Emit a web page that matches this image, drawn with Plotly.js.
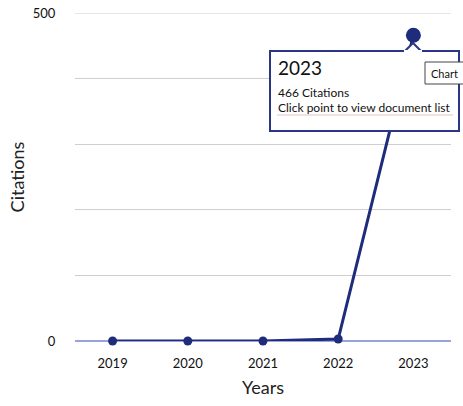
<!DOCTYPE html>
<html><head><meta charset="utf-8">
<script src="https://cdn.plot.ly/plotly-3.0.1.min.js"></script>
<style>html,body{margin:0;padding:0;background:#fff}#chart{width:463px;height:406px}</style>
</head><body><div id="chart"></div>
<script>
const years = ['2019','2020','2021','2022','2023'];
const citations = [0, 0, 0, 3, 466];
const yTickVals = [0, 100, 200, 300, 400, 500];
const yTickText = ['0', '', '', '', '', '500'];
const hoverYear = '2023';
const hoverIdx = years.indexOf(hoverYear);

const navy = '#1f2c7c';
const font = 'Lato, "Open Sans", sans-serif';
const L = 75, R = 451, T = 13, B = 341;
const px = x => (x - L) / (R - L);
const py = y => (B - y) / (B - T);

const trace = {
  x: years, y: citations, type: 'scatter', mode: 'lines+markers',
  line: {color: navy, width: 3},
  marker: {color: navy, opacity: 1, size: years.map(y => y === hoverYear ? 15 : 9), line: {width: 0}},
  opacity: 1, hoverinfo: 'skip', cliponaxis: false
};

const layout = {
  width: 463, height: 406,
  margin: {l: L, r: 463 - R, t: T, b: 406 - B},
  paper_bgcolor: '#fff', plot_bgcolor: '#fff',
  showlegend: false,
  font: {family: font, color: '#222'},
  xaxis: {
    type: 'category', range: [-0.5, 4.5], showgrid: false, zeroline: false,
    showline: false, ticks: 'outside', ticklen: 10, tickcolor: 'rgba(0,0,0,0)',
    tickfont: {size: 13, color: '#111', family: font},
    title: {text: 'Years', font: {size: 18, color: '#222', family: font}, standoff: 11}
  },
  yaxis: {
    range: [0, 500], tickvals: yTickVals, ticktext: yTickText,
    showgrid: true, gridcolor: '#cfcfcf', gridwidth: 1,
    zeroline: true, zerolinecolor: '#9aa2dc', zerolinewidth: 1.5,
    showline: false, ticks: 'outside', ticklen: 16, tickcolor: 'rgba(0,0,0,0)',
    tickfont: {size: 13, color: '#111', family: font},
    title: {text: 'Citations', font: {size: 18, color: '#222', family: font}, standoff: 3}
  },
  shapes: [
    {type: 'line', xref: 'paper', yref: 'y', x0: 0, x1: 1, y0: 500, y1: 500,
     line: {color: '#cfcfcf', width: 1}, layer: 'below'},
    {type: 'rect', xref: 'paper', yref: 'paper', x0: px(270), x1: px(459), y0: py(131), y1: py(51),
     fillcolor: '#fff', line: {color: '#2a3585', width: 2}, layer: 'above'},
    {type: 'path', xref: 'paper', yref: 'paper',
     path: `M ${px(405)} ${py(51)} L ${px(413)} ${py(43)} L ${px(421)} ${py(51)} Z`,
     fillcolor: '#fff', line: {color: '#2a3585', width: 2}, layer: 'above'},
    {type: 'line', xref: 'paper', yref: 'paper', x0: px(404), x1: px(422), y0: py(51), y1: py(51),
     line: {color: '#fff', width: 2}, layer: 'above'},
    {type: 'line', xref: 'paper', yref: 'paper', x0: px(277), x1: px(453), y0: py(115), y1: py(115),
     line: {color: '#e8c4c4', width: 1}, layer: 'above'},
    {type: 'rect', xref: 'paper', yref: 'paper', x0: px(425), x1: px(475), y0: py(84), y1: py(62),
     fillcolor: '#fff', line: {color: '#444', width: 1}, layer: 'above'}
  ],
  annotations: [
    {xref: 'paper', yref: 'paper', x: px(276), y: py(67), xanchor: 'left', yanchor: 'middle',
     text: hoverYear, showarrow: false, font: {size: 19, color: '#111', family: font}},
    {xref: 'paper', yref: 'paper', x: px(276), y: py(92), xanchor: 'left', yanchor: 'middle',
     text: citations[hoverIdx] + ' Citations', showarrow: false, font: {size: 12, color: '#111', family: font}},
    {xref: 'paper', yref: 'paper', x: px(276), y: py(107), xanchor: 'left', yanchor: 'middle',
     text: 'Click point to view document list', showarrow: false, font: {size: 12, color: '#111', family: font}},
    {xref: 'paper', yref: 'paper', x: px(429), y: py(73), xanchor: 'left', yanchor: 'middle',
     text: 'Chart', showarrow: false, font: {size: 11, color: '#111', family: font}}
  ]
};

Plotly.newPlot('chart', [trace], layout, {displayModeBar: false, staticPlot: true});
</script></body></html>
